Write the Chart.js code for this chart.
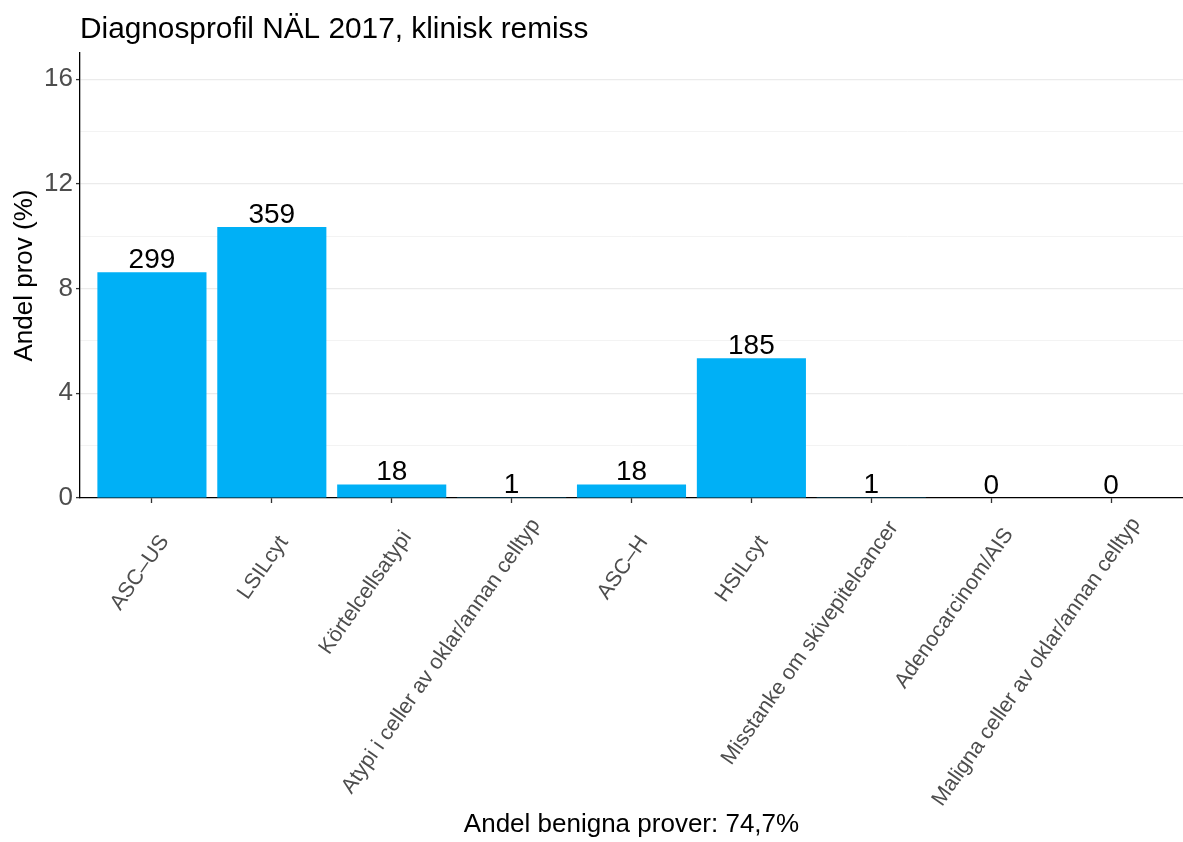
<!DOCTYPE html>
<html lang="sv">
<head>
    <meta charset="UTF-8">
    <title>Diagnosprofil NÄL 2017</title>
    <script src="https://cdn.jsdelivr.net/npm/chart.js"></script>
    <style>
        body {
            margin: 0;
            background-color: #ffffff;
        }
        canvas {
            display: block;
        }
    </style>
</head>
<body>

    <canvas id="diagChart" width="1183" height="842"></canvas>

    <script>
        // Data
        var categories = [
            'ASC–US',
            'LSILcyt',
            'Körtelcellsatypi',
            'Atypi i celler av oklar/annan celltyp',
            'ASC–H',
            'HSILcyt',
            'Misstanke om skivepitelcancer',
            'Adenocarcinom/AIS',
            'Maligna celler av oklar/annan celltyp'
        ];
        var counts = [299, 359, 18, 1, 18, 185, 1, 0, 0];          // numbers above bars
        var percents = [8.62, 10.35, 0.52, 0.03, 0.52, 5.34, 0.03, 0, 0]; // Andel prov (%)
        var yMajorTicks = [0, 4, 8, 12, 16];

        var chartTitle = 'Diagnosprofil NÄL 2017, klinisk remiss';
        var yTitle = 'Andel prov (%)';
        var xTitle = 'Andel benigna prover: 74,7%';

        var FONT = '"Liberation Sans", Arial, Helvetica, sans-serif';
        Chart.defaults.font.family = FONT;

        // Title drawn at the left edge of the plot area (like ggplot)
        var titlePlugin = {
            id: 'plotTitle',
            afterDraw: function (chart) {
                var ctx = chart.ctx;
                ctx.save();
                ctx.font = '29.8px ' + FONT;
                ctx.fillStyle = '#000000';
                ctx.textAlign = 'left';
                ctx.textBaseline = 'alphabetic';
                ctx.fillText(chartTitle, chart.chartArea.left, 38);
                ctx.restore();
            }
        };

        // Count labels on top of each bar
        var countLabels = {
            id: 'countLabels',
            afterDatasetsDraw: function (chart) {
                var ctx = chart.ctx;
                var meta = chart.getDatasetMeta(0);
                ctx.save();
                ctx.font = '28px ' + FONT;
                ctx.fillStyle = '#000000';
                ctx.textAlign = 'center';
                ctx.textBaseline = 'alphabetic';
                meta.data.forEach(function (bar, i) {
                    ctx.fillText(String(counts[i]), bar.x, bar.y - 4.5);
                });
                ctx.restore();
            }
        };

        // Rotated category labels under the x axis (ggplot-like justification)
        var xLabels = {
            id: 'xLabels',
            afterDraw: function (chart) {
                var scale = chart.scales.x;
                var ctx = chart.ctx;
                var angle = 55 * Math.PI / 180;
                ctx.save();
                ctx.font = '21.5px ' + FONT;
                ctx.fillStyle = '#4D4D4D';
                ctx.textAlign = 'right';
                ctx.textBaseline = 'middle';
                scale.ticks.forEach(function (t) {
                    var label = categories[t.value];
                    if (label === undefined) return;
                    var w = ctx.measureText(label).width;
                    ctx.save();
                    ctx.translate(scale.getPixelForValue(t.value) - 8, scale.top + 7);
                    ctx.rotate(-angle);
                    ctx.fillText(label, -21.8 + 0.082 * w, 35.6);
                    ctx.restore();
                });
                ctx.restore();
            }
        };

        var ctx = document.getElementById('diagChart').getContext('2d');
        var diagChart = new Chart(ctx, {
            type: 'bar',
            data: {
                datasets: [{
                    data: categories.map(function (c, i) { return { x: i, y: percents[i] }; }),
                    backgroundColor: '#00B0F6',
                    borderWidth: 0,
                    categoryPercentage: 0.91,
                    barPercentage: 1.0
                }]
            },
            options: {
                responsive: false,
                animation: false,
                layout: {
                    padding: { top: 53, left: 0, right: 0, bottom: 0 }
                },
                plugins: {
                    legend: { display: false },
                    tooltip: { enabled: false },
                    title: { display: false }
                },
                scales: {
                    x: {
                        type: 'linear',
                        min: -0.6,
                        max: 8.6,
                        offset: false,
                        border: { display: true, color: '#000000', width: 1.3 },
                        grid: {
                            display: true,
                            offset: false,
                            drawOnChartArea: false,
                            drawTicks: true,
                            tickLength: 5,
                            tickColor: '#333333',
                            tickWidth: 1.3
                        },
                        ticks: {
                            display: false,
                            stepSize: 1,
                            includeBounds: false,
                            autoSkip: false
                        },
                        title: {
                            display: true,
                            text: xTitle,
                            color: '#000000',
                            font: { size: 26 },
                            padding: { top: 0, bottom: 1.5 }
                        },
                        afterFit: function (scale) {
                            scale.height = 344;
                            scale.paddingLeft = 0;
                            scale.paddingRight = 0;
                        }
                    },
                    y: {
                        min: 0,
                        max: 17,
                        border: { display: true, color: '#000000', width: 1.3 },
                        grid: {
                            drawTicks: true,
                            tickLength: 4,
                            color: function (c) {
                                if (c.tick.value === 0) return 'rgba(0,0,0,0)';
                                return yMajorTicks.indexOf(c.tick.value) >= 0 ? '#EBEBEB' : '#F3F3F3';
                            },
                            lineWidth: function (c) {
                                return yMajorTicks.indexOf(c.tick.value) >= 0 ? 1.2 : 1;
                            },
                            tickColor: function (c) {
                                return yMajorTicks.indexOf(c.tick.value) >= 0 ? '#333333' : 'rgba(0,0,0,0)';
                            },
                            tickWidth: 1.3
                        },
                        ticks: {
                            stepSize: 2,
                            includeBounds: false,
                            padding: 3,
                            color: '#4D4D4D',
                            font: { size: 26 },
                            callback: function (value) {
                                return yMajorTicks.indexOf(value) >= 0 ? String(value) : '';
                            }
                        },
                        title: {
                            display: true,
                            text: yTitle,
                            color: '#000000',
                            font: { size: 26 },
                            padding: { top: 9, bottom: 0 }
                        },
                        afterFit: function (scale) {
                            scale.width = 80;
                        }
                    }
                }
            },
            plugins: [titlePlugin, countLabels, xLabels]
        });
    </script>

</body>
</html>
